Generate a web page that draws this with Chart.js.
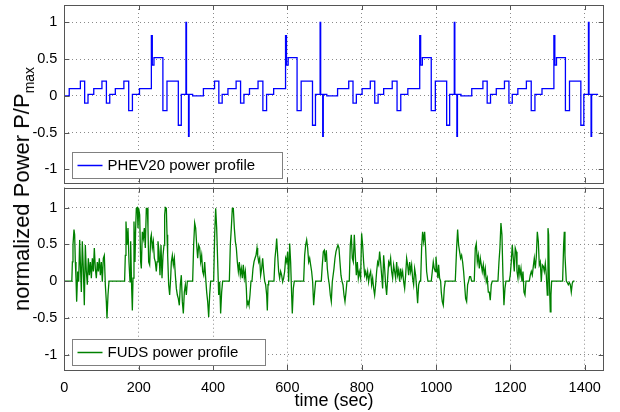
<!DOCTYPE html>
<html>
<head>
<meta charset="utf-8">
<script src="https://cdn.jsdelivr.net/npm/chart.js@4.4.1/dist/chart.umd.min.js"></script>
<style>
  html, body { margin: 0; padding: 0; background: #fff; }
  #wrap { position: relative; width: 620px; height: 412px; overflow: hidden; font-family: "Liberation Sans", Arial, sans-serif; }
  canvas { position: absolute; left: 0; }
  #top { top: 0; }
  #bottom { top: 185px; }
  #ylabel { position: absolute; left: 22px; top: 189px; transform: translate(-50%, -50%) rotate(-90deg);
            white-space: nowrap; font-size: 22px; color: #000; line-height: 1; }
  #ylabel sub { font-size: 14px; vertical-align: -5px; line-height: 0; }
</style>
</head>
<body>
<div id="wrap">
  <canvas id="top" width="620" height="185"></canvas>
  <canvas id="bottom" width="620" height="227"></canvas>
  <div id="ylabel">normalized Power P/P<sub>max</sub></div>
</div>
<script>
// axis ticks
const xTicks = [0, 200, 400, 600, 800, 1000, 1200, 1400];
const yTicks = [-1, -0.5, 0, 0.5, 1];

// PHEV20 profile: step times (sec) and level after each step
const phevTime = [
  0, 13, 43, 54.5, 63.5, 79, 101, 113, 122, 137, 160, 173, 183, 202, 234, 236.5, 241, 265, 276, 306.5, 314.5, 327, 328.5, 334, 335.5, 345,
  361, 374, 404, 415.5, 424.5, 440, 462, 474, 483, 498, 521, 534, 544, 563, 595, 597.5, 602, 626, 637, 667.5, 675.5, 688, 689.5, 695, 696.5, 706,
  722, 735, 765, 776.5, 785.5, 801, 823, 835, 844, 859, 882, 895, 905, 924, 956, 958.5, 963, 987, 998, 1028.5, 1036.5, 1049, 1050.5, 1056, 1057.5, 1067,
  1083, 1096, 1126, 1137.5, 1146.5, 1162, 1184, 1196, 1205, 1220, 1243, 1256, 1266, 1285, 1317, 1319.5, 1324, 1348, 1359, 1389.5, 1397.5, 1410, 1411.5, 1417, 1418.5, 1436
];
const phevPower = [
  0, 0.1, 0.2, -0.1, 0.02, 0.1, 0.2, -0.1, 0.02, 0.1, 0.2, -0.2, 0.02, 0.1, 0.82, 0.42, 0.52, -0.2, 0.2, -0.4, 0.02, 1, 0.02, -0.55, 0.02, 0,
  0, 0.1, 0.2, -0.1, 0.02, 0.1, 0.2, -0.1, 0.02, 0.1, 0.2, -0.2, 0.02, 0.1, 0.82, 0.42, 0.52, -0.2, 0.2, -0.4, 0.02, 1, 0.02, -0.55, 0.02, 0,
  0, 0.1, 0.2, -0.1, 0.02, 0.1, 0.2, -0.1, 0.02, 0.1, 0.2, -0.2, 0.02, 0.1, 0.82, 0.42, 0.52, -0.2, 0.2, -0.4, 0.02, 1, 0.02, -0.55, 0.02, 0,
  0, 0.1, 0.2, -0.1, 0.02, 0.1, 0.2, -0.1, 0.02, 0.1, 0.2, -0.2, 0.02, 0.1, 0.82, 0.42, 0.52, -0.2, 0.2, -0.4, 0.02, 1, 0.02, -0.55, 0.02, 0.02
];

// FUDS profile samples (sec, normalized power)
const fudsTime = [
  0, 20, 21.5, 23.1, 25.8, 27.6, 29.4, 31.2, 33, 35.7, 38.4, 41.1, 42.9, 45.6, 48.2, 50.9, 53.6, 56.3, 59, 61.7,
  64.4, 67.1, 69.8, 72.5, 75.2, 77.8, 80.5, 83.2, 85.9, 88.6, 91.3, 94, 96.7, 99.4, 102, 104.7, 107.4, 110.1, 112.8, 114.6,
  117.3, 120, 162, 163.9, 165.7, 168.4, 171.1, 173.8, 176.5, 178.3, 181, 182.8, 184.6, 187.2, 189.9, 191.7, 193.5, 196.2, 198, 199.8,
  202.5, 205.2, 207, 209.7, 212.4, 215, 217.7, 220.4, 223.1, 224.9, 226.7, 229.4, 232.1, 233.9, 236.6, 239.3, 242, 244.6, 247.3, 249.2,
  251.8, 254.5, 257.2, 259.9, 262.6, 265.3, 268, 269.8, 271.6, 274.3, 276.1, 277.8, 280.5, 283.2, 285.9, 287.7, 290.4, 293.1, 295.8, 298.5,
  301.2, 303.9, 306.5, 309.2, 311.9, 314.6, 317.3, 320, 322.7, 325.4, 328.1, 330.8, 345.1, 347.8, 350.5, 353.2, 355.9, 358.6, 361.2, 364,
  366.6, 369.3, 372, 374.7, 377.4, 380.1, 382.8, 385.5, 388.2, 390.8, 393.5, 401.6, 404.3, 407, 409.7, 412.4, 415.1, 417.8, 420.4, 423.1,
  425.8, 443.8, 446.4, 449.1, 451.8, 454.5, 457.2, 459.9, 462.6, 465.3, 468, 470.7, 473.3, 476, 478.7, 481.4, 484.1, 486.8, 489.5, 491.3,
  494, 496.6, 499.3, 502, 504.7, 507.4, 510.1, 512.8, 515.5, 518.2, 520, 522.6, 525.3, 528, 530.7, 533.4, 536.1, 538.8, 541.5, 544.2,
  546, 547.8, 549.5, 563.9, 566.6, 569.3, 571.1, 573.8, 576.4, 579.1, 581.8, 584.5, 587.2, 589.9, 592.6, 595.3, 598, 600.7, 603.4, 606.1,
  608.7, 611.4, 613.2, 615.9, 618.6, 643.7, 646.4, 649.1, 651.8, 654.5, 657.2, 659.9, 662.5, 665.2, 667.9, 670.6, 673.3, 676, 691.2, 693.9,
  696.6, 699.3, 702, 704.7, 707.4, 710.1, 712.8, 715.4, 718.1, 720.8, 725.3, 728, 730.7, 733.4, 736, 738.7, 741.4, 744.1, 746.8, 749.5,
  752.2, 754.9, 757.6, 760.3, 766.5, 769.2, 771.9, 774.6, 777.3, 780, 782.7, 785.4, 788.1, 790.8, 793.4, 797, 799.7, 802.4, 805.1, 807.8,
  810.5, 813.2, 815.9, 818.5, 821.2, 823.9, 826.6, 829.3, 832, 834.7, 837.4, 840.1, 842.8, 845.5, 848.1, 850.8, 853.5, 856.2, 858.9, 861.6,
  864.3, 867, 869.7, 872.4, 875.1, 877.7, 880.4, 883.1, 885.8, 888.5, 891.2, 893.9, 896.6, 899.3, 902, 904.6, 907.3, 910, 912.7, 915.4,
  918.1, 920.8, 923.5, 926.2, 928.9, 931.6, 934.2, 936.9, 939.6, 942.3, 945, 947.7, 950.4, 953.1, 955.8, 958.5, 961.1, 963.8, 966.5, 969.2,
  971.9, 974.6, 978, 987.1, 989.8, 992.5, 995.2, 997.9, 999.7, 1002.4, 1005, 1006.8, 1009.5, 1012.2, 1014, 1016.7, 1019.4, 1022.1, 1024.8, 1051.7,
  1055.3, 1058, 1060.6, 1063.3, 1066, 1068.7, 1071.4, 1074.1, 1076.8, 1079.5, 1082.2, 1084.9, 1087.6, 1090.2, 1092.9, 1095.6, 1102.8, 1105.5, 1108.2, 1110.9,
  1113.6, 1116.3, 1119, 1121.7, 1124.3, 1127, 1129.7, 1132.4, 1135.1, 1137.8, 1140.5, 1143.2, 1145.8, 1148.5, 1151.2, 1166.5, 1169.2, 1171.8, 1174.5, 1177.2,
  1179.9, 1182.6, 1185.3, 1188, 1197, 1199.6, 1202.3, 1205, 1207.7, 1210.4, 1213, 1215.8, 1217.7, 1220.3, 1223, 1225.7, 1228.4, 1231.1, 1233.8, 1236.5,
  1239.2, 1241.9, 1250.8, 1253.5, 1256.2, 1258.9, 1261.6, 1264.3, 1267, 1269.7, 1272.4, 1275.1, 1277.7, 1280.4, 1283.1, 1285.8, 1288.5, 1291.2, 1293.9, 1296.6,
  1299.3, 1301.1, 1302.8, 1304.6, 1307.3, 1309.1, 1310.9, 1340.5, 1343.2, 1345, 1346.8, 1348.6, 1350.4, 1353.1, 1355.8, 1358.5, 1361.2, 1363.8, 1366.5, 1369.2,
  1372.5
];
const fudsPower = [
  0, 0, 0.26, 0.49, 0.70, 0.63, 0.26, 0.04, -0.28, 0.13, -0.01, 0.56, 0.26, -0.15, 0.54, 0.17, -0.33, 0.49, 0.13, -0.05,
  0.31, 0.08, 0.26, 0.04, 0.31, 0.13, 0.45, 0.17, 0.04, 0.26, 0.13, 0.31, 0.08, 0.26, -0.01, 0.31, 0.35, -0.05, -0.28, -0.51,
  -0.19, 0, 0, 0.35, 0.81, 0.49, 0.72, 0.26, -0.01, 0.54, -0.1, -0.4, 0.04, 0.81, 0.26, 0.72, 0.99, 1.0, 0.72, 0.99,
  0.9, 0.26, 0.17, 0.67, 0.58, 0.72, 0.45, 0.99, 0.99, 0.72, 0.26, 0.22, 0.58, 0.63, 0.45, 0.54, 0.31, 0.26, 0.13, 0.26,
  0.54, 0.4, 0.08, 0.49, 0.04, 0.35, 0.49, 0.9, 1.0, 0.99, 0.63, 0.35, -0.05, -0.19, 0.04, 0.26, 0.35, 0.22, 0.31, 0.08,
  -0.1, -0.19, -0.24, -0.33, -0.05, 0.08, -0.28, -0.44, -0.15, -0.05, -0.19, 0, 0, 0.49, 0.79, 0.72, 0.49, 0.31, 0.49, 0.45,
  0.26, 0.35, 0.13, 0.08, 0.26, 0.04, -0.15, -0.28, -0.49, -0.19, 0, 0, 0.63, 0.99, 0.72, 0.26, -0.19, -0.01, -0.44, -0.15,
  0, 0, 0.49, 0.72, 0.99, 0.99, 0.72, 0.54, 0.45, 0.26, 0.13, 0.26, 0.08, 0.17, 0.04, 0.22, 0.04, 0.13, -0.1, -0.33,
  -0.28, -0.33, -0.19, 0, 0, 0.17, 0.26, 0.31, 0.35, 0.45, 0.35, 0.26, 0.31, 0.08, 0.17, 0.31, 0.13, 0, -0.05, -0.19,
  -0.4, -0.05, 0, 0, 0.31, 0.45, 0.58, 0.35, 0.13, 0.04, 0.13, 0.08, -0.01, 0.04, 0.13, 0.31, 0.26, 0.4, -0.01, 0.51,
  0.26, -0.19, -0.44, -0.1, 0, 0, 0.35, 0.49, 0.56, 0.45, 0.26, 0.31, 0.22, 0.13, -0.01, -0.33, -0.15, 0, 0, 0.22,
  0.4, 0.42, 0.26, 0.42, 0.17, 0.04, -0.05, -0.19, -0.28, -0.01, 0.17, 0.31, 0.4, 0.45, 0.49, 0.45, 0.26, 0.08, 0, -0.05,
  -0.19, -0.28, -0.15, 0, 0, 0.49, 0.63, 0.31, 0.26, 0.63, 0.35, 0.08, 0.26, 0.04, 0.13, 0.04, 0.65, 0.49, 0.26, 0.08,
  0.13, 0.04, 0.13, -0.01, 0.08, 0.13, -0.05, 0.04, -0.1, -0.19, -0.05, 0.13, 0.26, 0.22, 0.4, 0.26, 0.08, -0.1, 0.35, 0.17,
  -0.05, -0.19, 0.04, 0.26, 0.22, 0.31, 0.13, 0.04, 0.22, 0.13, 0.04, 0.26, 0.08, 0.15, -0.01, 0.17, 0.06, 0.13, -0.01, -0.1,
  0.08, 0.31, 0.22, 0.08, 0.26, 0.13, 0.22, 0.04, -0.05, 0.17, 0.08, -0.1, -0.3, -0.05, 0, 0, 0.45, 0.67, 0.54, 0.67,
  0.45, 0.13, 0, 0, 0.13, 0.26, 0.17, 0.13, 0.33, 0.17, 0.04, 0.22, 0.04, 0, -0.15, -0.28, -0.33, -0.1, 0, 0,
  0.45, 0.7, 0.49, 0.4, 0.31, 0.35, 0.26, 0.13, -0.05, -0.24, -0.28, -0.05, 0, 0.06, 0.06, 0, 0, 0.45, 0.51, 0.26,
  0.35, 0.17, 0.31, 0.22, 0.13, 0.22, 0.08, 0.17, -0.01, 0.04, -0.15, -0.15, -0.26, -0.05, 0, 0, 0.26, 0.45, 0.79, 0.63,
  0.08, -0.33, -0.1, 0, 0, 0.08, 0.26, 0.49, 0.31, 0.13, 0.45, 0.4, 0.13, 0.04, 0.22, 0.08, 0.17, -0.01, 0.13, -0.15,
  -0.19, 0, 0, 0.08, 0.13, 0.08, 0.2, 0.31, 0.17, 0.33, 0.67, 0.54, 0.22, 0.26, -0.01, 0.22, 0.2, 0.13, 0.24, 0.08,
  -0.19, 0.72, 0.63, 0.04, -0.42, -0.19, 0, 0, 0.49, 0.67, 0.35, 0.17, 0, -0.02, -0.05, -0.02, -0.05, -0.15, -0.03, 0,
  0
];

const FONT = '"Liberation Sans", Arial, sans-serif';

// MATLAB-style box: frame, inward tick marks and the in-plot legend
const boxPlugin = {
  id: 'box',
  afterDatasetsDraw(chart, args, opts) {
    const { ctx, chartArea: a } = chart;
    const xs = chart.scales.x, ys = chart.scales.y;
    ctx.save();
    ctx.strokeStyle = '#555';
    ctx.lineWidth = 1;
    ctx.beginPath();
    xTicks.forEach(v => {
      const x = Math.round(xs.getPixelForValue(v)) + 0.5;
      ctx.moveTo(x, a.bottom); ctx.lineTo(x, a.bottom - 5);
      ctx.moveTo(x, a.top); ctx.lineTo(x, a.top + 5);
    });
    yTicks.forEach(v => {
      const y = Math.round(ys.getPixelForValue(v)) + 0.5;
      ctx.moveTo(a.left, y); ctx.lineTo(a.left + 5, y);
      ctx.moveTo(a.right, y); ctx.lineTo(a.right - 5, y);
    });
    ctx.stroke();
    ctx.strokeRect(Math.round(a.left) + 0.5, Math.round(a.top) + 0.5,
                   Math.round(a.right - a.left), Math.round(a.bottom - a.top));

    // legend
    ctx.font = '15px ' + FONT;
    const w = Math.round(ctx.measureText(opts.label).width + 62);
    const bx = Math.round(a.left + 8) + 0.5;
    const by = Math.round(a.bottom - 5 - 26) + 0.5;
    ctx.fillStyle = '#fff';
    ctx.fillRect(bx, by, w, 26);
    ctx.strokeStyle = '#808080';
    ctx.strokeRect(bx, by, w, 26);
    ctx.strokeStyle = opts.color;
    ctx.lineWidth = 1.5;
    ctx.beginPath();
    ctx.moveTo(bx + 5, by + 13);
    ctx.lineTo(bx + 30, by + 13);
    ctx.stroke();
    ctx.fillStyle = '#000';
    ctx.textBaseline = 'middle';
    ctx.fillText(opts.label, bx + 35, by + 13.5);
    ctx.restore();
  }
};

function makeChart(id, cfg) {
  const tickFont = { family: FONT, size: 14.5 };
  return new Chart(document.getElementById(id), {
    type: 'line',
    data: {
      datasets: [{
        data: cfg.times.map((t, i) => ({ x: t, y: cfg.values[i] })),
        borderColor: cfg.color,
        borderWidth: cfg.width,
        pointRadius: 0,
        tension: 0,
        stepped: cfg.stepped,
        fill: false
      }]
    },
    plugins: [boxPlugin],
    options: {
      responsive: false,
      animation: false,
      events: [],
      layout: { padding: { top: cfg.padTop, right: 16.3, left: 0, bottom: 0 } },
      plugins: {
        legend: { display: false },
        tooltip: { enabled: false },
        box: { label: cfg.label, color: cfg.color }
      },
      scales: {
        x: {
          type: 'linear',
          min: 0,
          max: 1451,
          afterBuildTicks: s => { s.ticks = xTicks.map(v => ({ value: v })); },
          afterFit: s => { s.height = cfg.xHeight; s.paddingLeft = 0; s.paddingRight = 0; },
          grid: { color: '#8a8a8a', drawTicks: false },
          border: { display: false, dash: [1, 3] },
          ticks: {
            display: cfg.showX, padding: 9, color: '#000', font: tickFont,
            autoSkip: false, maxRotation: 0, callback: v => String(v)
          },
          title: {
            display: cfg.showX, text: 'time (sec)', color: '#000',
            font: { family: FONT, size: 18 }, padding: { top: 0, bottom: 0 }
          }
        },
        y: {
          min: cfg.yMin,
          max: cfg.yMax,
          afterBuildTicks: s => { s.ticks = yTicks.map(v => ({ value: v })); },
          afterFit: s => { s.width = 64.4; s.paddingTop = 0; s.paddingBottom = 0; },
          grid: { color: '#8a8a8a', drawTicks: false },
          border: { display: false, dash: [1, 3] },
          ticks: { padding: 7, color: '#000', font: tickFont, callback: v => String(v) }
        }
      }
    }
  });
}

makeChart('top', {
  times: phevTime, values: phevPower, color: '#0000ff', width: 1.3, stepped: 'before',
  label: 'PHEV20 power profile', yMin: -1.183, yMax: 1.238, padTop: 5, xHeight: 2.3, showX: false
});

makeChart('bottom', {
  times: fudsTime, values: fudsPower, color: '#008000', width: 1.3, stepped: false,
  label: 'FUDS power profile', yMin: -1.21, yMax: 1.27, padTop: 2.7, xHeight: 42, showX: true
});
</script>
</body>
</html>
